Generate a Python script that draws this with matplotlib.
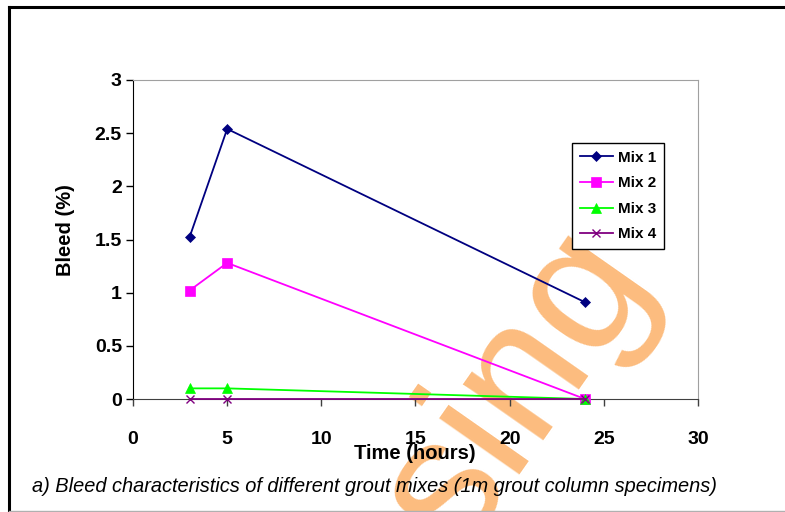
import matplotlib
matplotlib.use('Agg')
import matplotlib.pyplot as plt
from matplotlib.lines import Line2D

plt.rcParams['font.family'] = ['Liberation Sans', 'DejaVu Sans']

# --- bleed measurements ---
time_h = [3, 5, 24]
mix1 = [1.52, 2.54, 0.91]
mix2 = [1.02, 1.28, 0.0]
mix3 = [0.10, 0.10, 0.0]
mix4 = [0.0, 0.0, 0.0]

series = [
    ('Mix 1', mix1, '#000080', 'D', 5.5),
    ('Mix 2', mix2, '#FF00FF', 's', 7),
    ('Mix 3', mix3, '#00FF00', '^', 7),
    ('Mix 4', mix4, '#800080', 'x', 6),
]

x_ticks = [0, 5, 10, 15, 20, 25, 30]
y_ticks = [0, 0.5, 1, 1.5, 2, 2.5, 3]
y_labels = ['0', '0.5', '1', '1.5', '2', '2.5', '3']

fig = plt.figure(figsize=(7.85, 5.12), dpi=100)
W, H = 785, 512
ax = fig.add_axes([133 / W, 1 - 399 / H, (698 - 133) / W, (399 - 80) / H])
ax.patch.set_alpha(0)  # let the watermark show through the plot area

for name, vals, col, mk, ms in series:
    ax.plot(time_h, vals, color=col, marker=mk, markersize=ms, lw=1.3,
            markeredgewidth=1.0 if mk == 'x' else 0.5, label=name,
            clip_on=False, zorder=3)

ax.set_xlim(0, 30)
ax.set_ylim(0, 3)
ax.set_xticks(x_ticks)
ax.set_yticks(y_ticks)
ax.set_yticklabels(y_labels)
ax.tick_params(axis='both', direction='out', length=5, width=1, labelsize=14, pad=3)
ax.tick_params(axis='x', pad=18, colors='#404040', labelcolor='black')
for lab in ax.get_xticklabels() + ax.get_yticklabels():
    lab.set_fontweight('bold')

ax.spines['left'].set_color('black')
ax.spines['bottom'].set_color('#404040')
ax.spines['top'].set_color('#A0A0A0')
ax.spines['right'].set_color('#A0A0A0')

ax.set_xlabel('Time (hours)', fontsize=14.5, fontweight='bold')
ax.xaxis.set_label_coords((415 - 133) / 565, (399 - 444) / 319)
ax.set_ylabel('Bleed (%)', fontsize=14.5, fontweight='bold')
ax.yaxis.set_label_coords((75 - 133) / 565, (399 - 230) / 319)

leg = ax.legend(loc='upper left', bbox_to_anchor=((572 - 133) / 565, 1 - (143 - 80) / 319),
                prop={'weight': 'bold', 'size': 11}, frameon=True, fancybox=False,
                edgecolor='black', framealpha=1, labelspacing=0.76, handlelength=2.2,
                handletextpad=0.3, borderpad=0.5, borderaxespad=0)
leg.get_frame().set_linewidth(1.0)

fig.text(32 / W, 1 - 487 / H,
         'a) Bleed characteristics of different grout mixes (1m grout column specimens)',
         fontsize=14.4, style='italic', va='center', ha='left')

# outer frame of the chart object
fig.add_artist(Line2D([9 / W, 9 / W], [1 - 7 / H, 1 - 511 / H], transform=fig.transFigure,
                      color='black', lw=2.2))
fig.add_artist(Line2D([9 / W, 1.0], [1 - 7 / H, 1 - 7 / H], transform=fig.transFigure,
                      color='black', lw=2.2))
fig.add_artist(Line2D([9 / W, 1.0], [1 - 510.5 / H, 1 - 510.5 / H], transform=fig.transFigure,
                      color='#B0B0B0', lw=1))

# watermark, behind the plot
fig.text(556 / W, 1 - 416 / H, 'sing', fontsize=134, color='#FCBC7E',
         rotation=55, rotation_mode='anchor', ha='center', va='baseline', zorder=-1)

fig.savefig('out.png', dpi=100)
